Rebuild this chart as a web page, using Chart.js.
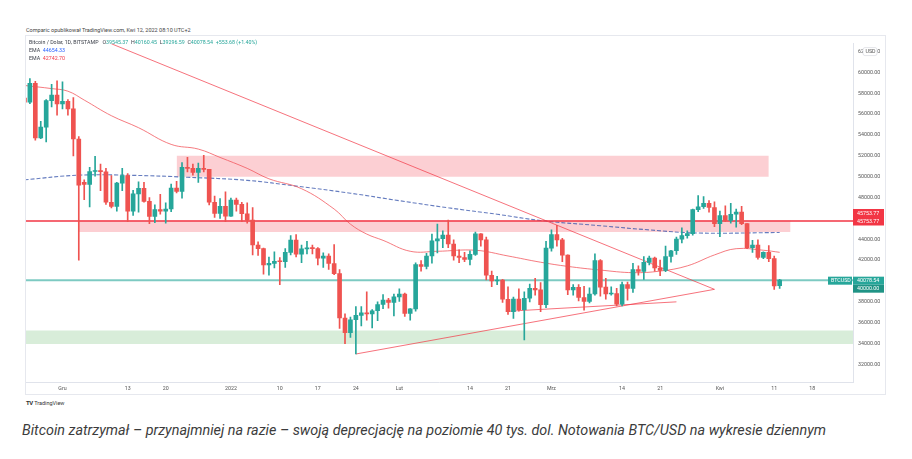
<!DOCTYPE html>
<html>
<head>
<meta charset="utf-8">
<script src="https://cdn.jsdelivr.net/npm/chart.js@4.4.0/dist/chart.umd.min.js"></script>
<style>
  body { margin: 0; background: #fff; width: 912px; height: 459px; overflow: hidden; position: relative; font-family: Roboto, "Noto Sans", sans-serif; }
  #chartBox { position: absolute; left: 25px; top: 35px; width: 861px; height: 360px; }
  #frame { position: absolute; left: 25px; top: 35px; width: 861px; height: 360px; border: 1px solid #e6e8ee; box-sizing: border-box; pointer-events: none; }
  .small { position: absolute; white-space: nowrap; font-size: 5.3px; color: #3a3e48; line-height: 8px; }
  .teal { color: #26a69a; }
  .blue { color: #2962ff; }
  .red { color: #f23645; }
  #caption { position: absolute; left: 22px; top: 421px; font-size: 15px; font-style: italic; color: #3c3c3c; white-space: nowrap; transform-origin: 0 0; }
</style>
</head>
<body>
<div class="small" style="left:26px;top:26px;font-size:5.5px;color:#444">Comparic opublikował TradingView.com, Kwi 12, 2022 08:10 UTC+2</div>
<div id="chartBox"><canvas id="myChart" width="861" height="360"></canvas></div>
<div id="frame"></div>
<div class="small" style="left:29px;top:38px">Bitcoin / Dolar, 1D, BITSTAMP&nbsp;&nbsp; O<span class="teal">39545.37</span>&nbsp; H<span class="teal">40160.45</span>&nbsp; L<span class="teal">39296.59</span>&nbsp; C<span class="teal">40078.54</span>&nbsp; <span class="teal">+553.68 (+1.40%)</span></div>
<div class="small" style="left:29px;top:46px">EMA&nbsp; <span class="blue">44654.33</span></div>
<div class="small" style="left:29px;top:54px">EMA&nbsp; <span class="red">42742.70</span></div>
<div class="small" style="left:26px;top:399px;font-size:5.5px;color:#333"><b style="letter-spacing:-0.4px;font-size:6px">TV</b> TradingView</div>
<div id="caption">Bitcoin zatrzymał – przynajmniej na razie – swoją deprecjację na poziomie 40 tys. dol. Notowania BTC/USD na wykresie dziennym</div>
<script>
const ctx = document.getElementById("myChart").getContext("2d");

// daily candles, BTC/USD Bitstamp
const dates = [
  "2021-11-24", "2021-11-25", "2021-11-26", "2021-11-27", "2021-11-28", "2021-11-29", "2021-11-30",
  "2021-12-01", "2021-12-02", "2021-12-03", "2021-12-04", "2021-12-05", "2021-12-06", "2021-12-07", "2021-12-08", "2021-12-09", "2021-12-10",
  "2021-12-11", "2021-12-12", "2021-12-13", "2021-12-14", "2021-12-15", "2021-12-16", "2021-12-17", "2021-12-18", "2021-12-19", "2021-12-20",
  "2021-12-21", "2021-12-22", "2021-12-23", "2021-12-24", "2021-12-25", "2021-12-26", "2021-12-27", "2021-12-28", "2021-12-29", "2021-12-30", "2021-12-31",
  "2022-01-01", "2022-01-02", "2022-01-03", "2022-01-04", "2022-01-05", "2022-01-06", "2022-01-07", "2022-01-08", "2022-01-09", "2022-01-10",
  "2022-01-11", "2022-01-12", "2022-01-13", "2022-01-14", "2022-01-15", "2022-01-16", "2022-01-17", "2022-01-18", "2022-01-19", "2022-01-20",
  "2022-01-21", "2022-01-22", "2022-01-23", "2022-01-24", "2022-01-25", "2022-01-26", "2022-01-27", "2022-01-28", "2022-01-29", "2022-01-30", "2022-01-31",
  "2022-02-01", "2022-02-02", "2022-02-03", "2022-02-04", "2022-02-05", "2022-02-06", "2022-02-07", "2022-02-08", "2022-02-09", "2022-02-10",
  "2022-02-11", "2022-02-12", "2022-02-13", "2022-02-14", "2022-02-15", "2022-02-16", "2022-02-17", "2022-02-18", "2022-02-19", "2022-02-20",
  "2022-02-21", "2022-02-22", "2022-02-23", "2022-02-24", "2022-02-25", "2022-02-26", "2022-02-27", "2022-02-28",
  "2022-03-01", "2022-03-02", "2022-03-03", "2022-03-04", "2022-03-05", "2022-03-06", "2022-03-07", "2022-03-08", "2022-03-09", "2022-03-10",
  "2022-03-11", "2022-03-12", "2022-03-13", "2022-03-14", "2022-03-15", "2022-03-16", "2022-03-17", "2022-03-18", "2022-03-19", "2022-03-20",
  "2022-03-21", "2022-03-22", "2022-03-23", "2022-03-24", "2022-03-25", "2022-03-26", "2022-03-27", "2022-03-28", "2022-03-29", "2022-03-30", "2022-03-31",
  "2022-04-01", "2022-04-02", "2022-04-03", "2022-04-04", "2022-04-05", "2022-04-06", "2022-04-07", "2022-04-08", "2022-04-09", "2022-04-10", "2022-04-11", "2022-04-12",
];
const open = [
  57540, 57150, 58960, 53730, 54760, 57290, 57830,
  56980, 57230, 56510, 53620, 49450, 49260, 50500, 50580, 50480, 47550,
  47150, 49390, 50100, 46700, 48350, 48880, 47640, 46200, 46860, 46700,
  46900, 48900, 48600, 50900, 50800, 50400, 50800, 50700, 47550, 46480, 47150,
  46220, 47750, 47350, 46450, 45830, 43450, 43100, 41550, 41690, 41880,
  41850, 42750, 43920, 42580, 43080, 43180, 43100, 42200, 42380, 41680,
  40700, 36450, 35050, 36280, 36700, 36950, 36850, 37150, 37750, 38180, 37950,
  38480, 38740, 36900, 37330, 41570, 41400, 42400, 43850, 44050, 44400,
  43550, 42400, 42250, 42080, 42550, 44530, 43950, 40550, 40000, 40080,
  38250, 37050, 38270, 37250, 38350, 39300, 39150, 37720,
  43150, 44450, 43950, 42480, 39150, 39400, 38420, 38030, 38750, 41950,
  39420, 38750, 38800, 37780, 39650, 39300, 41100, 40920, 41780, 42200,
  41250, 41020, 42350, 42900, 44020, 44350, 44550, 46850, 47120, 47450, 47050,
  45500, 46280, 45820, 46400, 46600, 45500, 43200, 43450, 42250, 42750, 42150, 39546,
];
const high = [
  57700, 59400, 59150, 55300, 57400, 58870, 59200,
  59100, 57400, 57600, 53860, 49700, 50900, 51950, 51200, 50800, 50100,
  49450, 50800, 50300, 48700, 49500, 49450, 48000, 47300, 48300, 47500,
  49300, 49550, 51350, 51850, 51200, 51300, 52050, 50700, 48150, 47900, 48550,
  47950, 47950, 47550, 47500, 47050, 43750, 43150, 42300, 42800, 42250,
  43100, 44350, 44450, 43450, 43800, 43450, 43200, 42700, 42600, 43500,
  41100, 36850, 36550, 37550, 37550, 38950, 37250, 38000, 38700, 38350, 38750,
  39250, 38850, 37350, 41750, 41950, 42650, 44500, 45450, 44800, 45850,
  43950, 43000, 42750, 42900, 44700, 44550, 44200, 40950, 40450, 40150,
  39450, 38450, 39250, 38950, 39700, 40250, 39850, 43800,
  44900, 45350, 44100, 42500, 39650, 39650, 39500, 39350, 42600, 42050,
  40250, 39450, 39300, 39900, 39900, 41700, 41450, 42350, 42400, 42300,
  42000, 43350, 42950, 44200, 45100, 44800, 46900, 48200, 48100, 47700, 47600,
  46700, 47200, 47450, 46900, 47150, 45500, 43900, 43950, 42800, 43400, 42400, 40160,
];
const low = [
  55890, 57000, 53500, 53650, 53330, 56700, 55900,
  56500, 55900, 52000, 42000, 47800, 47100, 50050, 48650, 47350, 47000,
  46700, 48650, 45700, 46300, 46600, 47550, 45500, 45600, 46400, 45550,
  46650, 48450, 47950, 50450, 50150, 49450, 50450, 47300, 46100, 46000, 45700,
  46200, 46700, 45700, 45550, 42500, 42450, 40650, 40550, 41250, 39650,
  41300, 42500, 42300, 41750, 42600, 42600, 41550, 41300, 41100, 40600,
  35450, 34000, 34600, 33000, 35700, 36250, 35500, 36200, 37350, 37400, 36650,
  38050, 36600, 36250, 37100, 40950, 41150, 41700, 42700, 43200, 43200,
  42000, 41750, 41850, 41550, 42450, 43350, 40100, 39450, 39650, 37950,
  36800, 36400, 37100, 34350, 38000, 38650, 37050, 37450,
  42850, 43350, 41850, 38700, 38650, 38100, 37200, 37900, 38650, 38550,
  38250, 38650, 37600, 37600, 38150, 38900, 40550, 40150, 41550, 40950,
  40500, 40900, 41800, 42550, 43650, 44100, 44400, 46650, 46950, 46600, 45200,
  44250, 45700, 45550, 45150, 45400, 43100, 42750, 42100, 42150, 41850, 39200, 39297,
];
const close = [
  57150, 58960, 53730, 54760, 57290, 57830, 56980,
  57230, 56510, 53620, 49200, 49260, 50500, 50580, 50480, 47550, 47150,
  49390, 50100, 46700, 48350, 48880, 47640, 46200, 46860, 46700, 46900,
  48900, 48600, 50900, 50800, 50400, 50800, 50700, 47550, 46480, 47150, 46220,
  47750, 47350, 46450, 45830, 43450, 43100, 41550, 41690, 41880, 41850,
  42750, 43920, 42580, 43080, 43180, 43100, 42200, 42380, 41680, 40700,
  36450, 35050, 36280, 36700, 36950, 36850, 37150, 37750, 38180, 37950, 38480,
  38740, 36900, 37330, 41570, 41400, 42400, 43850, 44050, 44400, 43550,
  42400, 42250, 42080, 42550, 44530, 43950, 40550, 40000, 40080, 38250,
  37050, 38270, 37250, 38350, 39300, 39150, 37720, 43150,
  44450, 43950, 42480, 39150, 39400, 38420, 38030, 38750, 41950, 39420,
  38750, 38800, 37780, 39650, 39300, 41100, 40920, 41780, 42200, 41250,
  41020, 42350, 42900, 44020, 44350, 44550, 46850, 47120, 47450, 47050, 45500,
  46280, 45820, 46400, 46600, 45500, 43200, 43450, 42250, 42750, 42150, 39530, 40079,
];

// EMA lines
const emaBlueDates = ["2021-11-24", "2021-12-04", "2021-12-14", "2021-12-24", "2022-01-04", "2022-01-13", "2022-01-23",
  "2022-02-01", "2022-02-10", "2022-02-19", "2022-02-27", "2022-03-10", "2022-03-19", "2022-03-28", "2022-04-12"];
const emaBlueValues = [49700, 50150, 50130, 49950, 49650, 49100, 48420, 47700, 47020, 46400, 45800, 45300, 44900, 44600, 44650];

const emaRedDates = ["2021-11-24", "2021-11-29", "2021-12-02", "2021-12-05", "2021-12-10", "2021-12-15", "2021-12-21",
  "2021-12-26", "2021-12-30", "2022-01-04", "2022-01-08", "2022-01-14", "2022-01-20", "2022-01-23", "2022-01-26",
  "2022-01-29", "2022-02-03", "2022-02-08", "2022-02-15", "2022-02-21", "2022-02-27", "2022-03-04", "2022-03-10",
  "2022-03-16", "2022-03-21", "2022-03-26", "2022-03-31", "2022-04-04", "2022-04-09", "2022-04-12"];
const emaRedValues = [58750, 58450, 58200, 57350, 55850, 54700, 53100, 52650, 51850, 50800, 49800, 48850, 46900, 45450,
  44500, 43900, 42850, 42850, 42950, 42400, 41800, 41400, 41050, 40800, 40950, 41450, 42500, 43100, 42950, 42750];

// drawings
const zoneStart = ["2021-12-22", "2021-12-04", "2021-11-01"];
const zoneEnd = ["2022-04-10", "2022-04-14", "2022-05-30"];
const zoneLow = [50000, 44700, 33950];
const zoneHigh = [52000, 45800, 35250];

const trendFrom = ["2021-12-10", "2022-01-24", "2022-02-21"];
const trendFromValue = [62750, 33000, 37100];
const trendTo = ["2022-03-31", "2022-03-31", "2022-03-24"];
const trendToValue = [39200, 39200, 38000];

const resistanceLevel = 45753.77;
const lastPrice = 40078.54;

// axes
const priceTicks = [32000, 34000, 36000, 38000, 40000, 42000, 44000, 46000, 48000, 50000, 52000, 54000, 56000, 58000, 60000, 62000];
const timeTickDates = ["2021-12-01", "2021-12-13", "2021-12-20", "2022-01-01", "2022-01-10", "2022-01-17", "2022-01-24", "2022-02-01",
  "2022-02-14", "2022-02-21", "2022-03-01", "2022-03-14", "2022-03-21", "2022-04-01", "2022-04-11", "2022-04-18"];
const timeTickLabels = ["Gru", "13", "20", "2022", "10", "17", "24", "Lut", "14", "21", "Mrz", "14", "21", "Kwi", "11", "18"];

// days since 1 Dec 2021
const dayOf = (d) => (Date.parse(d) - Date.parse("2021-12-01")) / 86400000;

const UP = "#26a69a";
const DOWN = "#ef5350";
const candleColors = dates.map((d, i) => (close[i] >= open[i] ? UP : DOWN));
const xMin = -6.9;
const xMax = 145.5;

const hLine = (value, color, width) => ({
  type: "line",
  data: [{ x: xMin, y: value }, { x: xMax, y: value }],
  borderColor: color,
  borderWidth: width,
  pointRadius: 0,
  fill: false,
});

const datasets = [
  // bodies
  {
    data: dates.map((d, i) => ({ x: dayOf(d), y: [open[i], close[i]] })),
    backgroundColor: candleColors,
    barThickness: 4,
    minBarLength: 1,
    grouped: false,
  },
  // wicks
  {
    data: dates.map((d, i) => ({ x: dayOf(d), y: [low[i], high[i]] })),
    backgroundColor: candleColors,
    barThickness: 1,
    grouped: false,
  },
];

trendFrom.forEach((d, i) => {
  datasets.push({
    type: "line",
    data: [{ x: dayOf(d), y: trendFromValue[i] }, { x: dayOf(trendTo[i]), y: trendToValue[i] }],
    borderColor: "rgba(242,54,69,0.7)",
    borderWidth: 1,
    pointRadius: 0,
    fill: false,
  });
});

datasets.push(hLine(resistanceLevel, "#f23645", 1.5));
datasets.push(hLine(lastPrice, "rgba(38,166,154,0.6)", 2));

datasets.push({
  type: "line",
  data: emaRedDates.map((d, i) => ({ x: dayOf(d), y: emaRedValues[i] })),
  borderColor: "rgba(242,90,96,0.8)",
  borderWidth: 1,
  pointRadius: 0,
  tension: 0.4,
  fill: false,
});
datasets.push({
  type: "line",
  data: emaBlueDates.map((d, i) => ({ x: dayOf(d), y: emaBlueValues[i] })),
  borderColor: "rgba(50,80,170,0.75)",
  borderWidth: 1.1,
  borderDash: [4, 2],
  pointRadius: 0,
  tension: 0.4,
  fill: false,
});

const zoneColors = ["rgba(242,54,69,0.24)", "rgba(242,54,69,0.24)", "rgba(76,175,80,0.22)"];
zoneStart.forEach((d, i) => {
  datasets.push({
    type: "line",
    data: [{ x: dayOf(d), y: zoneHigh[i] }, { x: dayOf(zoneEnd[i]), y: zoneHigh[i] }],
    borderWidth: 0,
    borderColor: "rgba(0,0,0,0)",
    backgroundColor: zoneColors[i],
    pointRadius: 0,
    fill: { value: zoneLow[i] },
  });
});

// price labels on the right axis
const badgePlugin = {
  id: "badges",
  afterDraw(chart) {
    const { ctx, scales } = chart;
    const y = scales.y;
    const left = y.left;
    const w = 31;
    ctx.save();
    ctx.font = "5.3px Roboto";
    ctx.textBaseline = "middle";
    ctx.textAlign = "left";

    let py = y.getPixelForValue(resistanceLevel);
    ctx.fillStyle = "#f23645";
    ctx.fillRect(left, py - 12, w, 16.5);
    ctx.fillStyle = "#fff";
    ctx.fillText(resistanceLevel.toFixed(2), left + 4, py - 7.5);
    ctx.fillText(resistanceLevel.toFixed(2), left + 4, py + 0.5);

    py = y.getPixelForValue(lastPrice);
    ctx.fillStyle = "#26a69a";
    ctx.fillRect(left, py - 3.5, w, 8);
    ctx.fillStyle = "#1f9385";
    ctx.fillRect(left, py + 4.5, w, 8);
    ctx.fillStyle = "#26a69a";
    ctx.fillRect(left - 25, py - 3.5, 24, 8);
    ctx.fillStyle = "#fff";
    ctx.fillText(lastPrice.toFixed(2), left + 4, py + 0.5);
    ctx.fillText("40000.00", left + 4, py + 8.5);
    ctx.fillText("BTCUSD", left - 22, py + 0.5);

    py = y.getPixelForValue(62000);
    ctx.fillStyle = "#fff";
    ctx.strokeStyle = "#d1d4dc";
    ctx.lineWidth = 0.6;
    ctx.beginPath();
    ctx.roundRect(left + 10, py - 4, 14, 8, 2);
    ctx.fill();
    ctx.stroke();
    ctx.fillStyle = "#555";
    ctx.fillText("USD", left + 12.5, py + 0.3);
    ctx.restore();
  },
};

const config = {
  type: "bar",
  data: { datasets },
  plugins: [badgePlugin],
  options: {
    responsive: false,
    animation: false,
    layout: { padding: 0 },
    plugins: { legend: { display: false }, tooltip: { enabled: false } },
    scales: {
      x: {
        type: "linear",
        min: xMin,
        max: xMax,
        offset: false,
        grid: { display: true, drawOnChartArea: false, drawTicks: false, color: "#e0e3eb" },
        border: { display: true, color: "#e0e3eb" },
        afterBuildTicks: (scale) => {
          scale.ticks = timeTickDates.map((d) => ({ value: dayOf(d) }));
        },
        afterFit: (scale) => {
          scale.height = 13;
        },
        ticks: {
          autoSkip: false,
          maxRotation: 0,
          padding: 3,
          color: "#555",
          font: { size: 5.3, family: "Roboto" },
          callback: (value, index) => timeTickLabels[index],
        },
      },
      y: {
        type: "linear",
        position: "right",
        min: 30315,
        max: 62805,
        grid: { display: true, drawOnChartArea: false, drawTicks: false, color: "#e0e3eb" },
        border: { display: true, color: "#e0e3eb" },
        afterBuildTicks: (scale) => {
          scale.ticks = priceTicks.map((v) => ({ value: v }));
        },
        afterFit: (scale) => {
          scale.width = 33;
        },
        ticks: {
          padding: 5,
          color: "#555",
          font: { size: 5.3, family: "Roboto" },
          callback: (value) => value.toFixed(2),
        },
      },
    },
  },
};

const myChart = new Chart(ctx, config);

// squeeze the caption to the width it has in the screenshot
const caption = document.getElementById("caption");
const fitCaption = () => {
  const w = caption.getBoundingClientRect().width / (caption._s || 1);
  caption._s = 804 / w;
  caption.style.transform = `scaleX(${caption._s})`;
};
fitCaption();
if (document.fonts) document.fonts.ready.then(fitCaption);
</script>
</body>
</html>
